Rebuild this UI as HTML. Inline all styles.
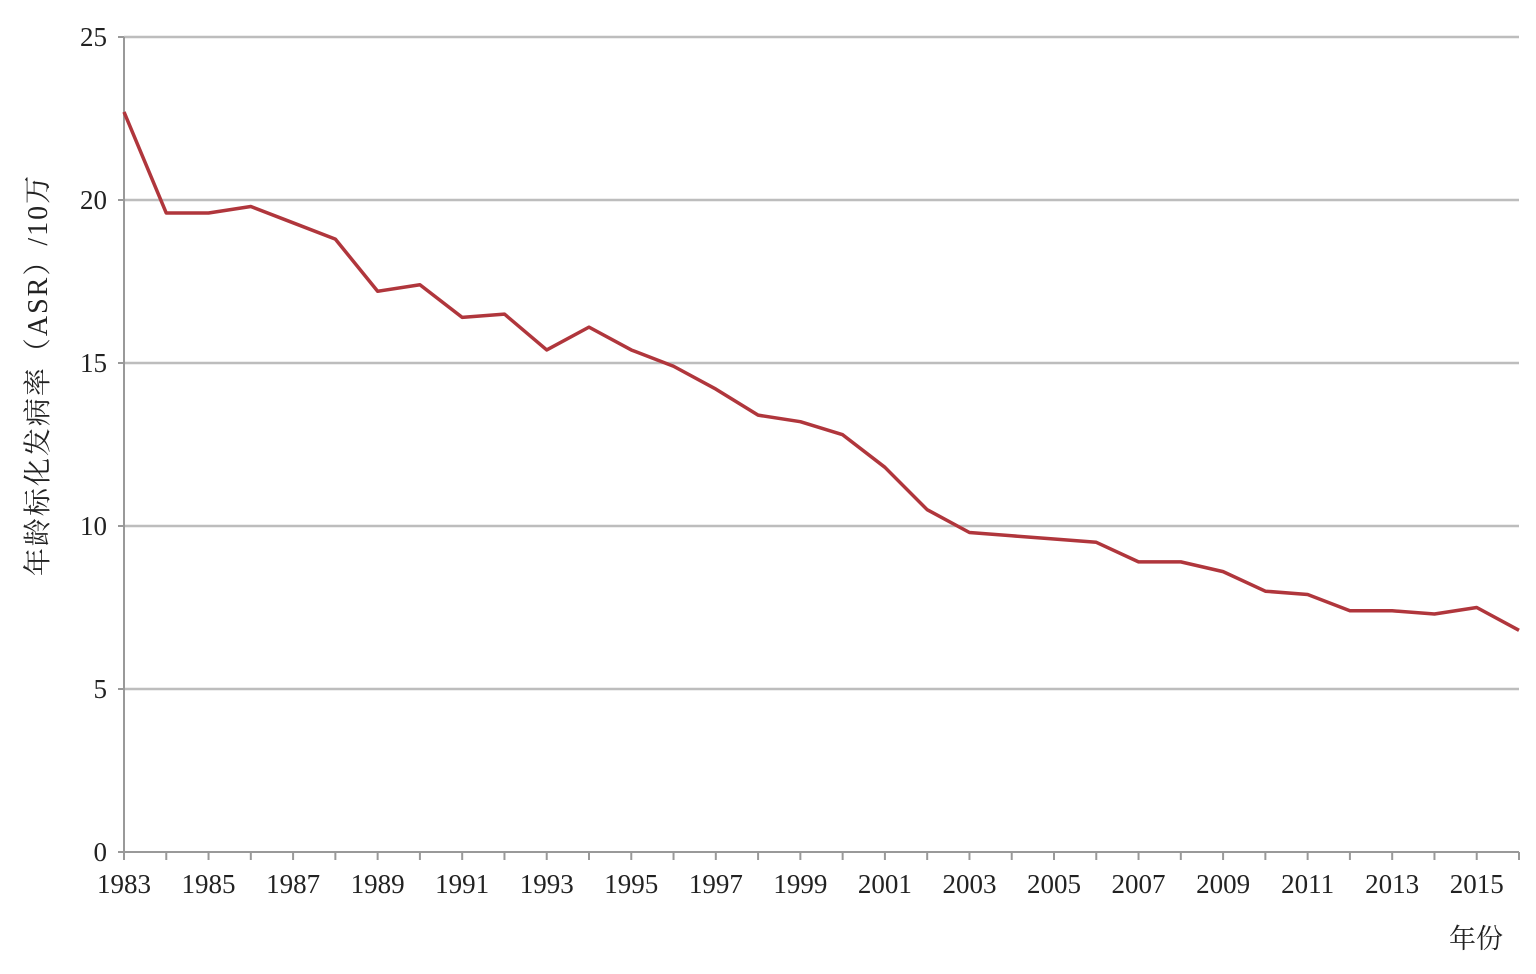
<!DOCTYPE html>
<html><head><meta charset="utf-8"><style>
body{margin:0;background:#fff}
svg text{font-family:"Liberation Serif","Noto Serif CJK SC",serif;fill:#222}
</style></head><body>
<svg id="chart" width="1536" height="969" xmlns="http://www.w3.org/2000/svg">
<g id="grid"></g>
<g id="axes"></g>
<g id="series"></g>
<text transform="translate(47,375) rotate(-90)" text-anchor="middle" font-size="28" letter-spacing="2">年龄标化发病率（ASR）/10万</text>
<text x="1476" y="948" text-anchor="middle" font-size="27">年份</text>
</svg>
<script>
const years=[1983,1984,1985,1986,1987,1988,1989,1990,1991,1992,1993,1994,1995,1996,1997,1998,1999,2000,2001,2002,2003,2004,2005,2006,2007,2008,2009,2010,2011,2012,2013,2014,2015,2016];
const asr=[22.7,19.6,19.6,19.8,19.3,18.8,17.2,17.4,16.4,16.5,15.4,16.1,15.4,14.9,14.2,13.4,13.2,12.8,11.8,10.5,9.8,9.7,9.6,9.5,8.9,8.9,8.6,8.0,7.9,7.4,7.4,7.3,7.5,6.8];
const yTicks=[0,5,10,15,20,25];
const xLabels=[1983,1985,1987,1989,1991,1993,1995,1997,1999,2001,2003,2005,2007,2009,2011,2013,2015];
const NS="http://www.w3.org/2000/svg";
const x0=124,x1=1519,y0=852,y1=37;
const xs=v=>x0+(v-1983)/(2016-1983)*(x1-x0);
const ys=v=>y0-(v/25)*(y0-y1);
function mk(t,a,p){const e=document.createElementNS(NS,t);for(const k in a)e.setAttribute(k,a[k]);p.appendChild(e);return e;}
const grid=document.getElementById('grid'),axes=document.getElementById('axes'),series=document.getElementById('series');
yTicks.forEach(v=>{
 if(v>0){const l=mk('line',{x1:x0,x2:x1,y1:ys(v),y2:ys(v),stroke:'#bdbdbd','stroke-width':2.5},grid);
 
 }
 const tk=mk('line',{x1:x0-6,x2:x0,y1:ys(v),y2:ys(v),stroke:'#999','stroke-width':2},axes);
 
 
 const t=mk('text',{x:107,y:ys(v)+9,'text-anchor':'end','font-size':27},axes);t.textContent=v;
 
 
});
const ya=mk('line',{x1:x0,x2:x0,y1:y1,y2:y0+6,stroke:'#999','stroke-width':2},axes);


const xa=mk('line',{x1:x0,x2:x1,y1:y0,y2:y0,stroke:'#999','stroke-width':2},axes);


years.forEach(yr=>{const tk=mk('line',{x1:xs(yr),x2:xs(yr),y1:y0,y2:y0+8,stroke:'#999','stroke-width':2},axes);
 
 });
xLabels.forEach(yr=>{const t=mk('text',{x:xs(yr),y:893,'text-anchor':'middle','font-size':27},axes);t.textContent=yr;
 
 });
const pts=years.map((yr,i)=>xs(yr)+','+ys(asr[i])).join(' ');
const pl=mk('polyline',{points:pts,fill:'none',stroke:'#b0363c','stroke-width':3.5,'stroke-linejoin':'round'},series);


</script>
</body></html>
